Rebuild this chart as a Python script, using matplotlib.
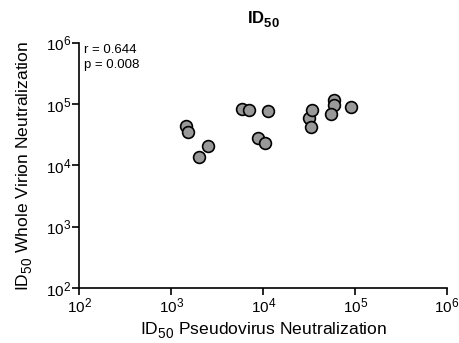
import matplotlib
matplotlib.use("Agg")
import matplotlib.pyplot as plt
import matplotlib._mathtext as mt
import numpy as np

# Prism-like sub/superscripts: slightly larger scripts, deeper subscripts
mt.SHRINK_FACTOR = 0.78
mt.FontConstantsBase.sub1 = 0.55

plt.rcParams['font.family'] = ['Liberation Sans', 'DejaVu Sans']

pseudovirus = [1450, 1500, 2530, 1990, 5850, 6970, 11200, 8870, 10400,
               31800, 34000, 33000, 59600, 59600, 54800, 89800]
whole_virion = [44500, 34700, 20500, 13600, 82200, 81100, 78000, 28000, 23200,
                60000, 80100, 42300, 116700, 96700, 69700, 88700]
ticks = [1e2, 1e3, 1e4, 1e5, 1e6]
tick_labels = [r'$\mathregular{10^{%d}}$' % int(np.log10(t)) for t in ticks]

fig = plt.figure(figsize=(4.59, 3.43), dpi=100)
ax = fig.add_axes([0.173, 0.160, 0.801, 0.715])
ax.scatter(pseudovirus, whole_virion, s=72, facecolor='#999999', edgecolor='black',
           linewidth=1.2, zorder=3, clip_on=False)
ax.set_xscale('log')
ax.set_yscale('log')
ax.set_xlim(1e2, 1e6)
ax.set_ylim(1e2, 1e6)
ax.set_xticks(ticks)
ax.set_xticklabels(tick_labels)
ax.set_yticks(ticks)
ax.set_yticklabels(tick_labels)
ax.minorticks_off()
for s in ['top', 'right']:
    ax.spines[s].set_visible(False)
for s in ['left', 'bottom']:
    ax.spines[s].set_linewidth(1.2)
ax.tick_params(axis='both', which='major', direction='out', length=5, width=1.2,
               labelsize=11, pad=1)
ax.set_xlabel(r'ID$\mathregular{_{50}}$ Pseudovirus Neutralization', fontsize=12.6, labelpad=3)
ax.set_ylabel(r'ID$\mathregular{_{50}}$ Whole Virion Neutralization', fontsize=12.6, labelpad=8)
ax.set_title(r'ID$\mathregular{_{50}}$', fontsize=12, fontweight='bold', pad=14)
ax.text(0.012, 0.995, 'r = 0.644\np = 0.008', transform=ax.transAxes, fontsize=9.5,
        va='top', ha='left', linespacing=1.3)
fig.savefig('out.png', dpi=100)
